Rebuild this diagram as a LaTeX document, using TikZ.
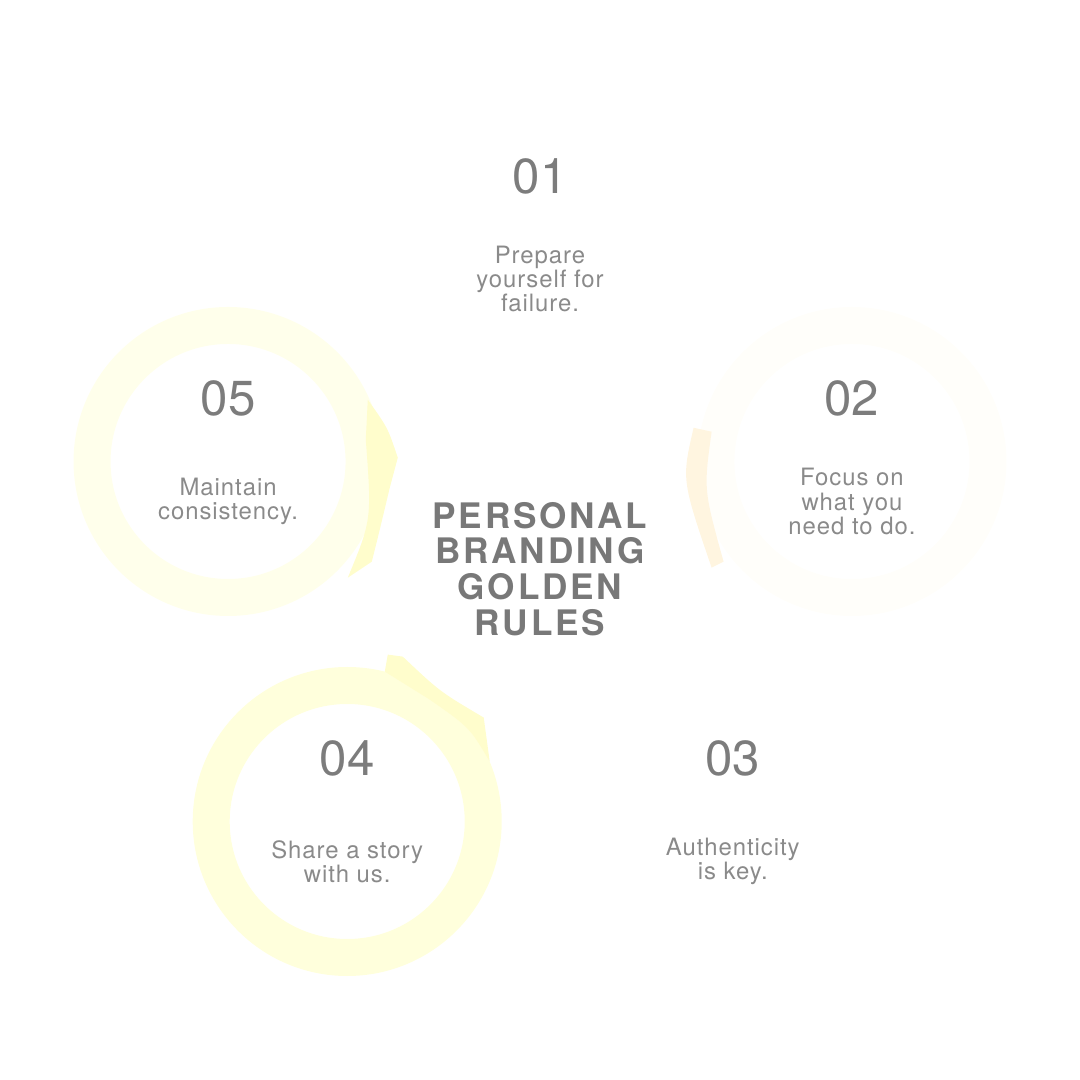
\documentclass[tikz,border=0pt]{standalone}
\usepackage{fontspec}
\setmainfont{TeX Gyre Heros}
\newfontfamily\headfont[LetterSpace=8]{TeX Gyre Heros}
\newfontfamily\notefont[LetterSpace=4]{TeX Gyre Heros}
\definecolor{numgray}{HTML}{7C7C7C}
\definecolor{notegray}{HTML}{8A8A8A}
\definecolor{headgray}{HTML}{787878}
\definecolor{lemonpale}{HTML}{FFFFEB}
\definecolor{lemonsoft}{HTML}{FFFFDC}
\definecolor{lemontail}{HTML}{FFFDCC}
\definecolor{creampale}{HTML}{FFFEFA}
\definecolor{creamarc}{HTML}{FFF5E0}
\begin{document}
\begin{tikzpicture}[
    num/.style={text=numgray, font=\fontsize{14}{14}\selectfont},
    note/.style={text=notegray, align=center, font=\notefont\fontsize{6.8}{6.9}\selectfont},
    head/.style={text=headgray, align=center, font=\headfont\bfseries\fontsize{10}{10.2}\selectfont},
    ring/.style={line width=3.7mm}
  ]
  \useasboundingbox (0,0) rectangle (10.8,10.8);
  \coordinate (hub) at (5.4,5.19);
  \path (hub)
    +(90:3.28 and 3.22) coordinate (c1)
    +(18:3.28 and 3.22) coordinate (c2)
    +(-54:3.28 and 3.22) coordinate (c3)
    +(-126:3.28 and 3.22) coordinate (c4)
    +(162:3.28 and 3.22) coordinate (c5);
  % brush rings
  \draw[ring, draw=creampale] (c2) circle (1.36);
  \draw[ring, draw=lemonpale] (c5) circle (1.36);
  \draw[ring, draw=lemonsoft] (c4) circle (1.36);
  \begin{scope}[shift={(0cm,10.8cm)}, x=0.01cm, y=-0.01cm]
    \fill[lemontail] (368,400) .. controls (388,428) .. (398,458)
      -- (390,488) .. controls (380,530) .. (372,562) -- (348,578)
      .. controls (372,520) .. (366,440) -- cycle;
    \fill[lemontail] (388,655) -- (403,657) .. controls (440,692) .. (484,718)
      -- (490,762) .. controls (470,728) .. (430,700) -- (385,672) -- cycle;
    \fill[creamarc] (694,428) .. controls (682,480) .. (712,568)
      -- (724,562) .. controls (704,490) .. (712,432) -- cycle;
  \end{scope}
  % labels
  \node[num] (n1) at ([yshift=6.3mm]c1) {01};
  \node[note] (t1) at ([yshift=-4mm]c1) {Prepare\\yourself for\\failure.};
  \node[num] (n2) at ([yshift=6.3mm]c2) {02};
  \node[note] (t2) at ([yshift=-4mm]c2) {Focus on\\what you\\need to do.};
  \node[num] (n3) at ([yshift=6.3mm]c3) {03};
  \node[note] (t3) at ([yshift=-4mm]c3) {Authenticity\\is key.};
  \node[num] (n4) at ([yshift=6.3mm]c4) {04};
  \node[note] (t4) at ([yshift=-4mm]c4) {Share a story\\with us.};
  \node[num] (n5) at ([yshift=6.3mm]c5) {05};
  \node[note] (t5) at ([yshift=-4mm]c5) {Maintain\\consistency.};
  \node[head] (title) at ([yshift=-0.8mm]hub) {PERSONAL\\BRANDING\\GOLDEN\\RULES};
\end{tikzpicture}
\end{document}
